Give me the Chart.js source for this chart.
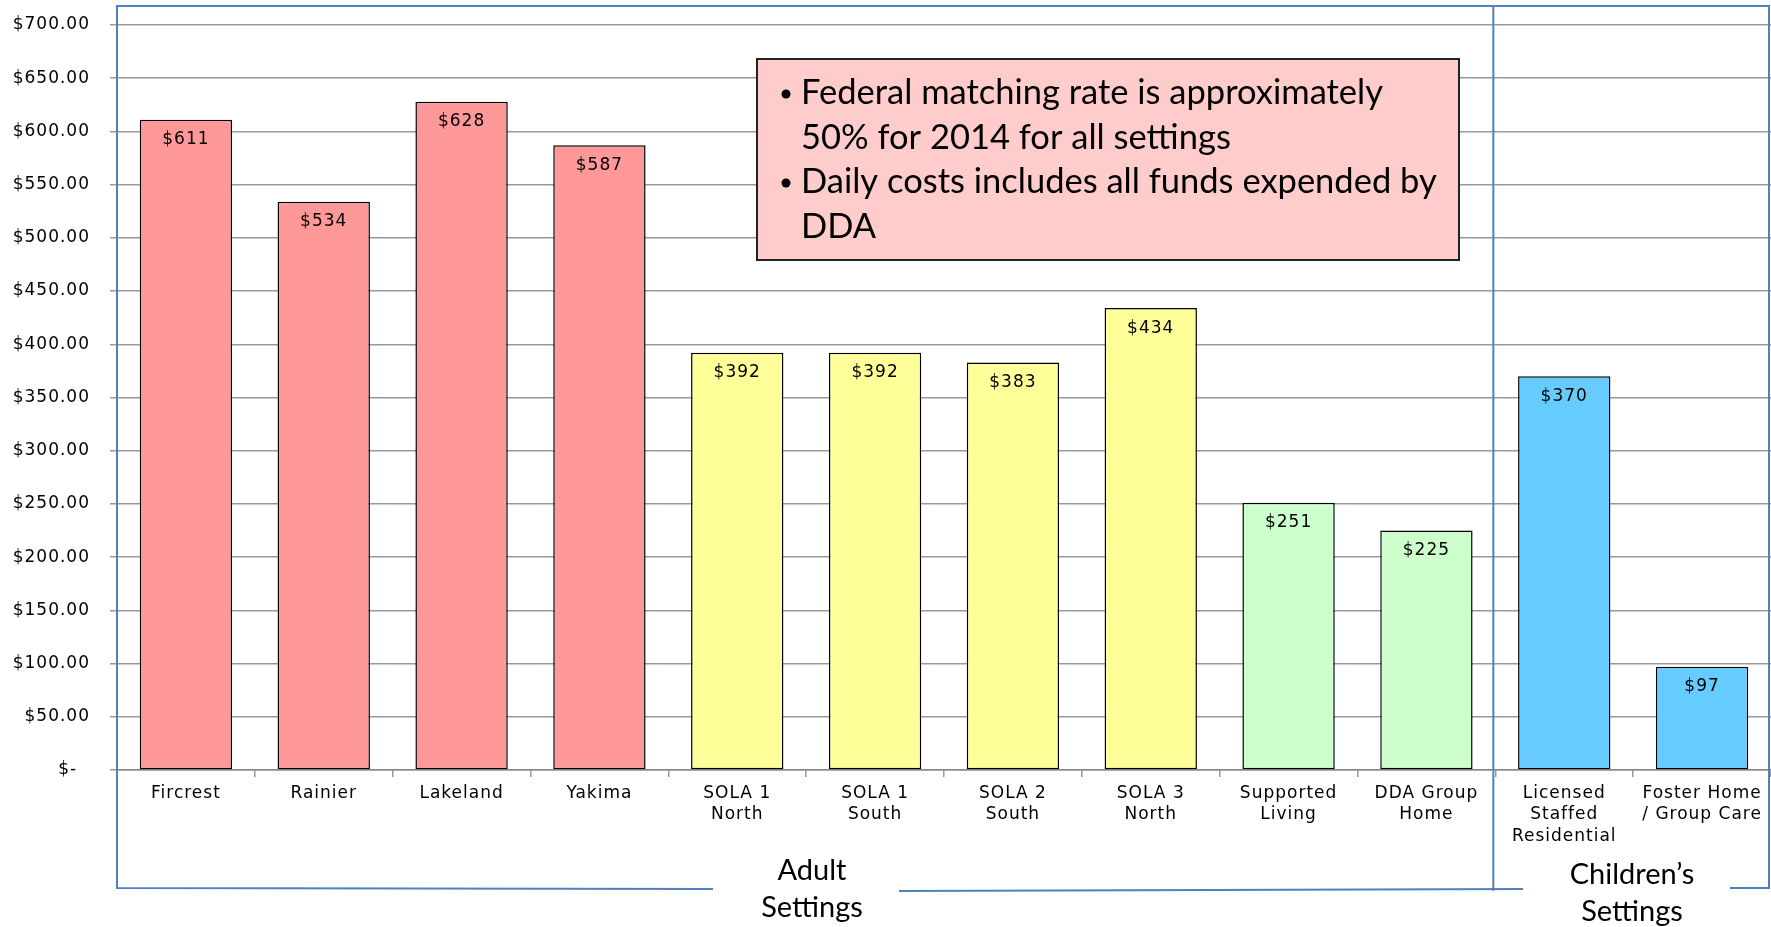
<!DOCTYPE html>
<html>
<head>
<meta charset="utf-8">
<script src="https://cdn.jsdelivr.net/npm/chart.js@4.4.1/dist/chart.umd.min.js"></script>
<style>
html, body { margin: 0; padding: 0; background: #fff; }
#contenedor { width: 1771px; height: 927px; }
</style>
</head>
<body>
<div id="contenedor"><canvas id="myChart"></canvas></div>
<script>
// datos del grafico
var categorias = ['Fircrest', 'Rainier', 'Lakeland', 'Yakima',
    ['SOLA 1', 'North'], ['SOLA 1', 'South'], ['SOLA 2', 'South'], ['SOLA 3', 'North'],
    ['Supported', 'Living'], ['DDA Group', 'Home'],
    ['Licensed', 'Staffed', 'Residential'], ['Foster Home', '/ Group Care']];
var costosDiarios = [611, 534, 628, 587, 392, 392, 383, 434, 251, 225, 370, 97];
var grupos = [['Adult', 'Settings'], ['Children\u2019s', 'Settings']];
var barrasPorGrupo = [10, 2];
var ejeY = [0, 700, 50];
var notas = [
    ['Federal matching rate is approximately', '50% for 2014 for all settings'],
    ['Daily costs includes all funds expended by', 'DDA']
];

var colores = ['#FF9999', '#FF9999', '#FF9999', '#FF9999',
    '#FFFF99', '#FFFF99', '#FFFF99', '#FFFF99',
    '#CCFFCC', '#CCFFCC', '#66CCFF', '#66CCFF'];
var azul = '#4F81BD';

Chart.defaults.font.family = "'DejaVu Sans', Verdana, sans-serif";
Chart.defaults.color = '#000';

// espaciado de letras parecido al original
var espaciado = {
    id: 'espaciado',
    beforeLayout: function (chart) { chart.ctx.letterSpacing = '1px'; },
    beforeDraw: function (chart) { chart.ctx.letterSpacing = '1px'; }
};

// etiquetas de valor dentro de cada barra
var etiquetas = {
    id: 'etiquetas',
    afterDatasetsDraw: function (chart) {
        var ctx = chart.ctx;
        var meta = chart.getDatasetMeta(0);
        ctx.save();
        ctx.font = "17px 'DejaVu Sans'";
        ctx.fillStyle = '#000';
        ctx.textAlign = 'center';
        ctx.textBaseline = 'middle';
        meta.data.forEach(function (barra, i) {
            ctx.fillText('$' + costosDiarios[i], barra.x, barra.y + 20);
        });
        ctx.restore();
    }
};

// caja de notas, corchetes azules y nombres de grupos
var extras = {
    id: 'extras',
    afterDraw: function (chart) {
        var ctx = chart.ctx;
        var area = chart.chartArea;
        var x = chart.scales.x;
        ctx.save();
        ctx.letterSpacing = '0px';

        // caja de notas
        ctx.fillStyle = '#FFCCCC';
        ctx.fillRect(757, 59, 702, 201);
        ctx.strokeStyle = '#222';
        ctx.lineWidth = 2;
        ctx.strokeRect(757, 59, 702, 201);
        ctx.fillStyle = '#000';
        ctx.font = "34.5px Lato";
        ctx.textAlign = 'left';
        ctx.textBaseline = 'middle';
        var fila = 0;
        notas.forEach(function (nota) {
            nota.forEach(function (linea, j) {
                var yy = 93 + fila * 44.5;
                if (j === 0) {
                    ctx.beginPath();
                    ctx.arc(786, yy + 1, 4.5, 0, Math.PI * 2);
                    ctx.fill();
                }
                ctx.fillText(linea, 801, yy);
                fila++;
            });
        });

        // corchetes azules
        var arriba = 6, abajo = 889;
        var izq = area.left;
        var der = area.right - 2;
        var corte = (x.getPixelForValue(barrasPorGrupo[0] - 1) + x.getPixelForValue(barrasPorGrupo[0])) / 2 - 2;
        ctx.strokeStyle = azul;
        ctx.lineWidth = 2;
        ctx.beginPath();
        ctx.moveTo(izq, abajo); ctx.lineTo(izq, arriba); ctx.lineTo(der, arriba); ctx.lineTo(der, abajo);
        ctx.moveTo(corte, arriba); ctx.lineTo(corte, abajo + 2);
        ctx.moveTo(izq, abajo - 1); ctx.lineTo(713, abajo);
        ctx.moveTo(899, abajo + 2); ctx.lineTo(1523, abajo);
        ctx.moveTo(1730, abajo - 1); ctx.lineTo(der, abajo - 1);
        ctx.stroke();

        // nombres de grupos
        ctx.font = "29px Lato";
        ctx.textAlign = 'center';
        var centros = [812, 1632];
        grupos.forEach(function (g, i) {
            ctx.fillText(g[0], centros[i], 871 + i * 4);
            ctx.fillText(g[1], centros[i], 908 + i * 4);
        });
        ctx.restore();
    }
};

var ctx = document.getElementById('myChart').getContext('2d');
new Chart(ctx, {
    type: 'bar',
    data: {
        labels: categorias,
        datasets: [{
            data: costosDiarios,
            backgroundColor: colores,
            borderColor: '#000',
            borderWidth: 1.5,
            borderSkipped: false,
            barPercentage: 0.67,
            categoryPercentage: 1
        }]
    },
    options: {
        responsive: true,
        maintainAspectRatio: false,
        animation: false,
        layout: { padding: { top: 25, right: 0, bottom: 0, left: 0 } },
        plugins: {
            legend: { display: false },
            tooltip: { enabled: false }
        },
        scales: {
            y: {
                min: ejeY[0],
                max: ejeY[1],
                afterFit: function (escala) {
                    escala.width = 117;
                    escala.paddingTop = 0;
                    escala.paddingBottom = 0;
                },
                border: { color: '#888', width: 1.5 },
                grid: { color: '#999', lineWidth: 1.5, tickLength: 7 },
                ticks: {
                    stepSize: ejeY[2],
                    padding: 20,
                    font: { size: 17 },
                    color: '#000',
                    callback: function (v) {
                        if (v === 0) { return '$-  '; }
                        return '$' + v.toFixed(2);
                    }
                }
            },
            x: {
                afterFit: function (escala) { escala.height = 157; },
                border: { color: '#888', width: 1.5 },
                grid: { drawOnChartArea: false, color: '#999', lineWidth: 1.5, tickLength: 7 },
                ticks: {
                    padding: 6,
                    maxRotation: 0,
                    autoSkip: false,
                    font: { size: 17, lineHeight: 1.25 },
                    color: '#000'
                }
            }
        }
    },
    plugins: [espaciado, etiquetas, extras]
});
</script>
</body>
</html>
